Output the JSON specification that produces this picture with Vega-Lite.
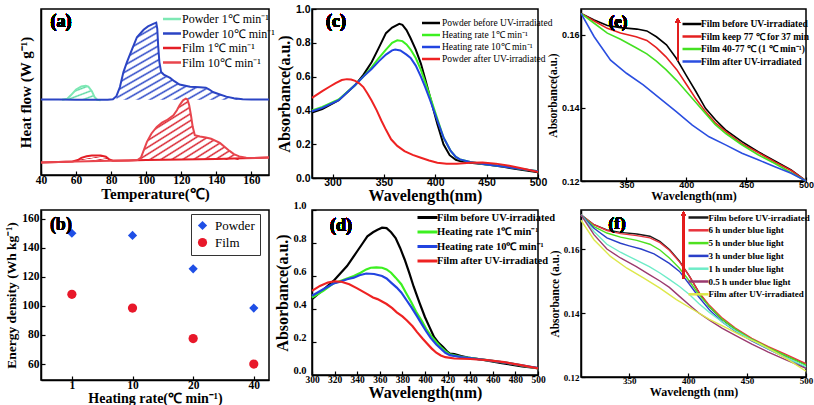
{
"$schema":"https://vega.github.io/schema/vega-lite/v6.json",
"background":"white",
"padding":{"left":4,"top":3,"right":5,"bottom":2},
"datasets":{
"dsc":[
{"series":"Powder 1℃ min⁻¹","T":52,"hf":45.3},{"series":"Powder 1℃ min⁻¹","T":55,"hf":46},{"series":"Powder 1℃ min⁻¹","T":57,"hf":48},{"series":"Powder 1℃ min⁻¹","T":60,"hf":51.5},{"series":"Powder 1℃ min⁻¹","T":63,"hf":53.4},{"series":"Powder 1℃ min⁻¹","T":65.5,"hf":53.8},{"series":"Powder 1℃ min⁻¹","T":67,"hf":53.2},{"series":"Powder 1℃ min⁻¹","T":69,"hf":50.5},{"series":"Powder 1℃ min⁻¹","T":70.5,"hf":47},{"series":"Powder 1℃ min⁻¹","T":72,"hf":45.3},{"series":"Powder 1℃ min⁻¹","T":74,"hf":45},
{"series":"Powder 10℃ min⁻¹","T":40,"hf":45.5},{"series":"Powder 10℃ min⁻¹","T":50,"hf":45.5},{"series":"Powder 10℃ min⁻¹","T":60,"hf":45.4},{"series":"Powder 10℃ min⁻¹","T":70,"hf":45.3},{"series":"Powder 10℃ min⁻¹","T":78,"hf":45.3},{"series":"Powder 10℃ min⁻¹","T":81,"hf":45.6},{"series":"Powder 10℃ min⁻¹","T":83,"hf":47.5},{"series":"Powder 10℃ min⁻¹","T":85,"hf":53},{"series":"Powder 10℃ min⁻¹","T":87,"hf":62},{"series":"Powder 10℃ min⁻¹","T":89,"hf":68},{"series":"Powder 10℃ min⁻¹","T":92,"hf":76},{"series":"Powder 10℃ min⁻¹","T":94.7,"hf":83},{"series":"Powder 10℃ min⁻¹","T":98.5,"hf":87.5},{"series":"Powder 10℃ min⁻¹","T":101,"hf":89.5},{"series":"Powder 10℃ min⁻¹","T":104,"hf":91},{"series":"Powder 10℃ min⁻¹","T":105.7,"hf":91.8},{"series":"Powder 10℃ min⁻¹","T":106.3,"hf":88},{"series":"Powder 10℃ min⁻¹","T":106.8,"hf":78},{"series":"Powder 10℃ min⁻¹","T":107.5,"hf":68},{"series":"Powder 10℃ min⁻¹","T":108.5,"hf":62},{"series":"Powder 10℃ min⁻¹","T":110,"hf":60.5},{"series":"Powder 10℃ min⁻¹","T":113.6,"hf":58.5},{"series":"Powder 10℃ min⁻¹","T":116,"hf":56.5},{"series":"Powder 10℃ min⁻¹","T":119,"hf":54.5},{"series":"Powder 10℃ min⁻¹","T":125,"hf":53.2},{"series":"Powder 10℃ min⁻¹","T":130.5,"hf":52.8},{"series":"Powder 10℃ min⁻¹","T":134,"hf":52.6},{"series":"Powder 10℃ min⁻¹","T":136,"hf":51.5},{"series":"Powder 10℃ min⁻¹","T":138,"hf":50},{"series":"Powder 10℃ min⁻¹","T":142,"hf":48.5},{"series":"Powder 10℃ min⁻¹","T":145.7,"hf":47.2},{"series":"Powder 10℃ min⁻¹","T":150,"hf":46.2},{"series":"Powder 10℃ min⁻¹","T":155,"hf":45.7},{"series":"Powder 10℃ min⁻¹","T":160,"hf":45.5},{"series":"Powder 10℃ min⁻¹","T":170,"hf":45.5},
{"series":"Film 1℃ min⁻¹","T":40,"hf":7.6},{"series":"Film 1℃ min⁻¹","T":50,"hf":7.9},{"series":"Film 1℃ min⁻¹","T":58,"hf":8.2},{"series":"Film 1℃ min⁻¹","T":61,"hf":9},{"series":"Film 1℃ min⁻¹","T":63,"hf":10.3},{"series":"Film 1℃ min⁻¹","T":66,"hf":11.3},{"series":"Film 1℃ min⁻¹","T":69,"hf":11.7},{"series":"Film 1℃ min⁻¹","T":74,"hf":11.7},{"series":"Film 1℃ min⁻¹","T":77,"hf":11},{"series":"Film 1℃ min⁻¹","T":79,"hf":9.3},{"series":"Film 1℃ min⁻¹","T":81,"hf":8.6},{"series":"Film 1℃ min⁻¹","T":90,"hf":8.8},{"series":"Film 1℃ min⁻¹","T":100,"hf":9},{"series":"Film 1℃ min⁻¹","T":120,"hf":9.3},{"series":"Film 1℃ min⁻¹","T":140,"hf":9.6},{"series":"Film 1℃ min⁻¹","T":155,"hf":10.1},{"series":"Film 1℃ min⁻¹","T":170,"hf":10.5},
{"series":"Film 10℃ min⁻¹","T":40,"hf":7.6},{"series":"Film 10℃ min⁻¹","T":60,"hf":8.2},{"series":"Film 10℃ min⁻¹","T":80,"hf":8.6},{"series":"Film 10℃ min⁻¹","T":90,"hf":8.8},{"series":"Film 10℃ min⁻¹","T":95,"hf":9},{"series":"Film 10℃ min⁻¹","T":97,"hf":10.5},{"series":"Film 10℃ min⁻¹","T":100.4,"hf":20},{"series":"Film 10℃ min⁻¹","T":103,"hf":25},{"series":"Film 10℃ min⁻¹","T":106,"hf":29},{"series":"Film 10℃ min⁻¹","T":109,"hf":31.5},{"series":"Film 10℃ min⁻¹","T":111.7,"hf":33},{"series":"Film 10℃ min⁻¹","T":115.5,"hf":36},{"series":"Film 10℃ min⁻¹","T":117.5,"hf":39},{"series":"Film 10℃ min⁻¹","T":119,"hf":42},{"series":"Film 10℃ min⁻¹","T":121,"hf":45},{"series":"Film 10℃ min⁻¹","T":122.6,"hf":46},{"series":"Film 10℃ min⁻¹","T":123.5,"hf":45.5},{"series":"Film 10℃ min⁻¹","T":124.5,"hf":42},{"series":"Film 10℃ min⁻¹","T":125.5,"hf":36},{"series":"Film 10℃ min⁻¹","T":126.5,"hf":29},{"series":"Film 10℃ min⁻¹","T":127.7,"hf":24},{"series":"Film 10℃ min⁻¹","T":130.6,"hf":23.2},{"series":"Film 10℃ min⁻¹","T":134,"hf":22.6},{"series":"Film 10℃ min⁻¹","T":137,"hf":21.8},{"series":"Film 10℃ min⁻¹","T":142,"hf":19.3},{"series":"Film 10℃ min⁻¹","T":147.5,"hf":14.5},{"series":"Film 10℃ min⁻¹","T":150,"hf":12.6},{"series":"Film 10℃ min⁻¹","T":153,"hf":11.2},{"series":"Film 10℃ min⁻¹","T":157,"hf":10.4},{"series":"Film 10℃ min⁻¹","T":161,"hf":10.2},{"series":"Film 10℃ min⁻¹","T":170,"hf":10.6}
],
"energy":[
{"sample":"Powder","rate":"1","e":150},{"sample":"Powder","rate":"10","e":148.5},{"sample":"Powder","rate":"20","e":125.5},{"sample":"Powder","rate":"40","e":98.5},
{"sample":"Film","rate":"1","e":108},{"sample":"Film","rate":"10","e":98.5},{"sample":"Film","rate":"20","e":77.5},{"sample":"Film","rate":"40","e":60}
],
"c":[
{"series":"Powder before UV-irradiated","nm":280,"A":0.388},{"series":"Powder before UV-irradiated","nm":290,"A":0.408},{"series":"Powder before UV-irradiated","nm":306,"A":0.46},{"series":"Powder before UV-irradiated","nm":322,"A":0.55},{"series":"Powder before UV-irradiated","nm":330,"A":0.61},{"series":"Powder before UV-irradiated","nm":338,"A":0.685},{"series":"Powder before UV-irradiated","nm":345,"A":0.77},{"series":"Powder before UV-irradiated","nm":352,"A":0.857},{"series":"Powder before UV-irradiated","nm":358,"A":0.89},{"series":"Powder before UV-irradiated","nm":365,"A":0.912},{"series":"Powder before UV-irradiated","nm":368,"A":0.906},{"series":"Powder before UV-irradiated","nm":372,"A":0.875},{"series":"Powder before UV-irradiated","nm":376,"A":0.827},{"series":"Powder before UV-irradiated","nm":381,"A":0.76},{"series":"Powder before UV-irradiated","nm":386,"A":0.677},{"series":"Powder before UV-irradiated","nm":390,"A":0.59},{"series":"Powder before UV-irradiated","nm":395,"A":0.478},{"series":"Powder before UV-irradiated","nm":402,"A":0.319},{"series":"Powder before UV-irradiated","nm":408,"A":0.199},{"series":"Powder before UV-irradiated","nm":414,"A":0.135},{"series":"Powder before UV-irradiated","nm":420,"A":0.108},{"series":"Powder before UV-irradiated","nm":424,"A":0.1},{"series":"Powder before UV-irradiated","nm":434,"A":0.09},{"series":"Powder before UV-irradiated","nm":450,"A":0.08},{"series":"Powder before UV-irradiated","nm":466,"A":0.066},{"series":"Powder before UV-irradiated","nm":482,"A":0.05},{"series":"Powder before UV-irradiated","nm":500,"A":0.034},
{"series":"Heating rate 1℃ min⁻¹","nm":280,"A":0.4},{"series":"Heating rate 1℃ min⁻¹","nm":290,"A":0.42},{"series":"Heating rate 1℃ min⁻¹","nm":306,"A":0.465},{"series":"Heating rate 1℃ min⁻¹","nm":322,"A":0.55},{"series":"Heating rate 1℃ min⁻¹","nm":330,"A":0.6},{"series":"Heating rate 1℃ min⁻¹","nm":338,"A":0.655},{"series":"Heating rate 1℃ min⁻¹","nm":345,"A":0.71},{"series":"Heating rate 1℃ min⁻¹","nm":352,"A":0.76},{"series":"Heating rate 1℃ min⁻¹","nm":358,"A":0.8},{"series":"Heating rate 1℃ min⁻¹","nm":363,"A":0.815},{"series":"Heating rate 1℃ min⁻¹","nm":368,"A":0.81},{"series":"Heating rate 1℃ min⁻¹","nm":372,"A":0.79},{"series":"Heating rate 1℃ min⁻¹","nm":376,"A":0.76},{"series":"Heating rate 1℃ min⁻¹","nm":381,"A":0.71},{"series":"Heating rate 1℃ min⁻¹","nm":386,"A":0.64},{"series":"Heating rate 1℃ min⁻¹","nm":390,"A":0.57},{"series":"Heating rate 1℃ min⁻¹","nm":395,"A":0.48},{"series":"Heating rate 1℃ min⁻¹","nm":402,"A":0.35},{"series":"Heating rate 1℃ min⁻¹","nm":408,"A":0.24},{"series":"Heating rate 1℃ min⁻¹","nm":415,"A":0.16},{"series":"Heating rate 1℃ min⁻¹","nm":420,"A":0.125},{"series":"Heating rate 1℃ min⁻¹","nm":424,"A":0.11},{"series":"Heating rate 1℃ min⁻¹","nm":434,"A":0.095},{"series":"Heating rate 1℃ min⁻¹","nm":450,"A":0.08},{"series":"Heating rate 1℃ min⁻¹","nm":466,"A":0.07},{"series":"Heating rate 1℃ min⁻¹","nm":482,"A":0.055},{"series":"Heating rate 1℃ min⁻¹","nm":500,"A":0.04},
{"series":"Heating rate 10℃ min⁻¹","nm":280,"A":0.395},{"series":"Heating rate 10℃ min⁻¹","nm":290,"A":0.415},{"series":"Heating rate 10℃ min⁻¹","nm":306,"A":0.46},{"series":"Heating rate 10℃ min⁻¹","nm":322,"A":0.55},{"series":"Heating rate 10℃ min⁻¹","nm":330,"A":0.6},{"series":"Heating rate 10℃ min⁻¹","nm":338,"A":0.645},{"series":"Heating rate 10℃ min⁻¹","nm":345,"A":0.69},{"series":"Heating rate 10℃ min⁻¹","nm":352,"A":0.73},{"series":"Heating rate 10℃ min⁻¹","nm":358,"A":0.755},{"series":"Heating rate 10℃ min⁻¹","nm":361,"A":0.76},{"series":"Heating rate 10℃ min⁻¹","nm":366,"A":0.755},{"series":"Heating rate 10℃ min⁻¹","nm":372,"A":0.73},{"series":"Heating rate 10℃ min⁻¹","nm":376,"A":0.71},{"series":"Heating rate 10℃ min⁻¹","nm":381,"A":0.665},{"series":"Heating rate 10℃ min⁻¹","nm":386,"A":0.6},{"series":"Heating rate 10℃ min⁻¹","nm":390,"A":0.54},{"series":"Heating rate 10℃ min⁻¹","nm":395,"A":0.46},{"series":"Heating rate 10℃ min⁻¹","nm":402,"A":0.34},{"series":"Heating rate 10℃ min⁻¹","nm":408,"A":0.24},{"series":"Heating rate 10℃ min⁻¹","nm":415,"A":0.16},{"series":"Heating rate 10℃ min⁻¹","nm":420,"A":0.125},{"series":"Heating rate 10℃ min⁻¹","nm":424,"A":0.11},{"series":"Heating rate 10℃ min⁻¹","nm":434,"A":0.095},{"series":"Heating rate 10℃ min⁻¹","nm":450,"A":0.08},{"series":"Heating rate 10℃ min⁻¹","nm":466,"A":0.068},{"series":"Heating rate 10℃ min⁻¹","nm":482,"A":0.055},{"series":"Heating rate 10℃ min⁻¹","nm":500,"A":0.04},
{"series":"Powder after UV-irradiated","nm":280,"A":0.474},{"series":"Powder after UV-irradiated","nm":290,"A":0.514},{"series":"Powder after UV-irradiated","nm":297,"A":0.54},{"series":"Powder after UV-irradiated","nm":303,"A":0.562},{"series":"Powder after UV-irradiated","nm":309,"A":0.58},{"series":"Powder after UV-irradiated","nm":314,"A":0.585},{"series":"Powder after UV-irradiated","nm":318,"A":0.583},{"series":"Powder after UV-irradiated","nm":322,"A":0.575},{"series":"Powder after UV-irradiated","nm":326,"A":0.56},{"series":"Powder after UV-irradiated","nm":330,"A":0.538},{"series":"Powder after UV-irradiated","nm":334,"A":0.5},{"series":"Powder after UV-irradiated","nm":338,"A":0.458},{"series":"Powder after UV-irradiated","nm":343,"A":0.4},{"series":"Powder after UV-irradiated","nm":347.6,"A":0.339},{"series":"Powder after UV-irradiated","nm":352,"A":0.285},{"series":"Powder after UV-irradiated","nm":357,"A":0.229},{"series":"Powder after UV-irradiated","nm":363,"A":0.19},{"series":"Powder after UV-irradiated","nm":370,"A":0.159},{"series":"Powder after UV-irradiated","nm":378,"A":0.137},{"series":"Powder after UV-irradiated","nm":386,"A":0.12},{"series":"Powder after UV-irradiated","nm":394,"A":0.104},{"series":"Powder after UV-irradiated","nm":402,"A":0.09},{"series":"Powder after UV-irradiated","nm":411,"A":0.084},{"series":"Powder after UV-irradiated","nm":421,"A":0.085},{"series":"Powder after UV-irradiated","nm":434,"A":0.09},{"series":"Powder after UV-irradiated","nm":446,"A":0.092},{"series":"Powder after UV-irradiated","nm":459,"A":0.085},{"series":"Powder after UV-irradiated","nm":472,"A":0.072},{"series":"Powder after UV-irradiated","nm":486,"A":0.055},{"series":"Powder after UV-irradiated","nm":500,"A":0.036}
],
"d":[
{"series":"Film before UV-irradiated","nm":300,"A":0.46},{"series":"Film before UV-irradiated","nm":307,"A":0.5},{"series":"Film before UV-irradiated","nm":313,"A":0.535},{"series":"Film before UV-irradiated","nm":319,"A":0.57},{"series":"Film before UV-irradiated","nm":325,"A":0.615},{"series":"Film before UV-irradiated","nm":331,"A":0.66},{"series":"Film before UV-irradiated","nm":336,"A":0.71},{"series":"Film before UV-irradiated","nm":340,"A":0.75},{"series":"Film before UV-irradiated","nm":345,"A":0.8},{"series":"Film before UV-irradiated","nm":349,"A":0.84},{"series":"Film before UV-irradiated","nm":354,"A":0.865},{"series":"Film before UV-irradiated","nm":358,"A":0.88},{"series":"Film before UV-irradiated","nm":362,"A":0.893},{"series":"Film before UV-irradiated","nm":366,"A":0.89},{"series":"Film before UV-irradiated","nm":370,"A":0.865},{"series":"Film before UV-irradiated","nm":374,"A":0.83},{"series":"Film before UV-irradiated","nm":378,"A":0.77},{"series":"Film before UV-irradiated","nm":382,"A":0.7},{"series":"Film before UV-irradiated","nm":386,"A":0.62},{"series":"Film before UV-irradiated","nm":390,"A":0.535},{"series":"Film before UV-irradiated","nm":395,"A":0.44},{"series":"Film before UV-irradiated","nm":400,"A":0.35},{"series":"Film before UV-irradiated","nm":404,"A":0.29},{"series":"Film before UV-irradiated","nm":408,"A":0.23},{"series":"Film before UV-irradiated","nm":412,"A":0.195},{"series":"Film before UV-irradiated","nm":416,"A":0.17},{"series":"Film before UV-irradiated","nm":420,"A":0.14},{"series":"Film before UV-irradiated","nm":422,"A":0.13},{"series":"Film before UV-irradiated","nm":426,"A":0.127},{"series":"Film before UV-irradiated","nm":432,"A":0.115},{"series":"Film before UV-irradiated","nm":438,"A":0.106},{"series":"Film before UV-irradiated","nm":453,"A":0.09},{"series":"Film before UV-irradiated","nm":468,"A":0.072},{"series":"Film before UV-irradiated","nm":486,"A":0.052},{"series":"Film before UV-irradiated","nm":500,"A":0.042},
{"series":"Heating rate 1℃ min⁻¹","nm":300,"A":0.47},{"series":"Heating rate 1℃ min⁻¹","nm":310,"A":0.51},{"series":"Heating rate 1℃ min⁻¹","nm":319,"A":0.555},{"series":"Heating rate 1℃ min⁻¹","nm":325,"A":0.57},{"series":"Heating rate 1℃ min⁻¹","nm":331,"A":0.585},{"series":"Heating rate 1℃ min⁻¹","nm":337,"A":0.6},{"series":"Heating rate 1℃ min⁻¹","nm":343,"A":0.62},{"series":"Heating rate 1℃ min⁻¹","nm":348,"A":0.64},{"series":"Heating rate 1℃ min⁻¹","nm":352,"A":0.65},{"series":"Heating rate 1℃ min⁻¹","nm":357,"A":0.652},{"series":"Heating rate 1℃ min⁻¹","nm":362,"A":0.65},{"series":"Heating rate 1℃ min⁻¹","nm":366,"A":0.64},{"series":"Heating rate 1℃ min⁻¹","nm":370,"A":0.62},{"series":"Heating rate 1℃ min⁻¹","nm":374,"A":0.59},{"series":"Heating rate 1℃ min⁻¹","nm":379,"A":0.55},{"series":"Heating rate 1℃ min⁻¹","nm":383,"A":0.5},{"series":"Heating rate 1℃ min⁻¹","nm":388,"A":0.44},{"series":"Heating rate 1℃ min⁻¹","nm":392,"A":0.385},{"series":"Heating rate 1℃ min⁻¹","nm":397,"A":0.33},{"series":"Heating rate 1℃ min⁻¹","nm":401,"A":0.28},{"series":"Heating rate 1℃ min⁻¹","nm":405,"A":0.24},{"series":"Heating rate 1℃ min⁻¹","nm":410,"A":0.2},{"series":"Heating rate 1℃ min⁻¹","nm":414,"A":0.17},{"series":"Heating rate 1℃ min⁻¹","nm":418,"A":0.145},{"series":"Heating rate 1℃ min⁻¹","nm":422,"A":0.125},{"series":"Heating rate 1℃ min⁻¹","nm":432,"A":0.11},{"series":"Heating rate 1℃ min⁻¹","nm":453,"A":0.092},{"series":"Heating rate 1℃ min⁻¹","nm":474,"A":0.072},{"series":"Heating rate 1℃ min⁻¹","nm":500,"A":0.04},
{"series":"Heating rate 10℃ min⁻¹","nm":300,"A":0.48},{"series":"Heating rate 10℃ min⁻¹","nm":310,"A":0.52},{"series":"Heating rate 10℃ min⁻¹","nm":319,"A":0.555},{"series":"Heating rate 10℃ min⁻¹","nm":325,"A":0.565},{"series":"Heating rate 10℃ min⁻¹","nm":331,"A":0.58},{"series":"Heating rate 10℃ min⁻¹","nm":337,"A":0.59},{"series":"Heating rate 10℃ min⁻¹","nm":342,"A":0.605},{"series":"Heating rate 10℃ min⁻¹","nm":348,"A":0.615},{"series":"Heating rate 10℃ min⁻¹","nm":355,"A":0.612},{"series":"Heating rate 10℃ min⁻¹","nm":362,"A":0.6},{"series":"Heating rate 10℃ min⁻¹","nm":366,"A":0.585},{"series":"Heating rate 10℃ min⁻¹","nm":370,"A":0.56},{"series":"Heating rate 10℃ min⁻¹","nm":375,"A":0.53},{"series":"Heating rate 10℃ min⁻¹","nm":379,"A":0.5},{"series":"Heating rate 10℃ min⁻¹","nm":384,"A":0.45},{"series":"Heating rate 10℃ min⁻¹","nm":388,"A":0.41},{"series":"Heating rate 10℃ min⁻¹","nm":393,"A":0.355},{"series":"Heating rate 10℃ min⁻¹","nm":397,"A":0.31},{"series":"Heating rate 10℃ min⁻¹","nm":401,"A":0.265},{"series":"Heating rate 10℃ min⁻¹","nm":405,"A":0.225},{"series":"Heating rate 10℃ min⁻¹","nm":410,"A":0.185},{"series":"Heating rate 10℃ min⁻¹","nm":414,"A":0.16},{"series":"Heating rate 10℃ min⁻¹","nm":418,"A":0.135},{"series":"Heating rate 10℃ min⁻¹","nm":422,"A":0.12},{"series":"Heating rate 10℃ min⁻¹","nm":432,"A":0.108},{"series":"Heating rate 10℃ min⁻¹","nm":453,"A":0.092},{"series":"Heating rate 10℃ min⁻¹","nm":474,"A":0.072},{"series":"Heating rate 10℃ min⁻¹","nm":500,"A":0.042},
{"series":"Film after UV-irradiated","nm":300,"A":0.51},{"series":"Film after UV-irradiated","nm":307,"A":0.54},{"series":"Film after UV-irradiated","nm":314,"A":0.56},{"series":"Film after UV-irradiated","nm":320,"A":0.568},{"series":"Film after UV-irradiated","nm":326,"A":0.565},{"series":"Film after UV-irradiated","nm":333,"A":0.55},{"series":"Film after UV-irradiated","nm":340,"A":0.525},{"series":"Film after UV-irradiated","nm":349,"A":0.49},{"series":"Film after UV-irradiated","nm":354,"A":0.47},{"series":"Film after UV-irradiated","nm":358,"A":0.46},{"series":"Film after UV-irradiated","nm":362,"A":0.445},{"series":"Film after UV-irradiated","nm":366,"A":0.43},{"series":"Film after UV-irradiated","nm":371,"A":0.405},{"series":"Film after UV-irradiated","nm":375,"A":0.38},{"series":"Film after UV-irradiated","nm":380,"A":0.355},{"series":"Film after UV-irradiated","nm":384,"A":0.33},{"series":"Film after UV-irradiated","nm":389,"A":0.295},{"series":"Film after UV-irradiated","nm":393,"A":0.26},{"series":"Film after UV-irradiated","nm":398,"A":0.22},{"series":"Film after UV-irradiated","nm":402,"A":0.19},{"series":"Film after UV-irradiated","nm":406,"A":0.16},{"series":"Film after UV-irradiated","nm":410,"A":0.135},{"series":"Film after UV-irradiated","nm":414,"A":0.118},{"series":"Film after UV-irradiated","nm":418,"A":0.108},{"series":"Film after UV-irradiated","nm":426,"A":0.1},{"series":"Film after UV-irradiated","nm":440,"A":0.097},{"series":"Film after UV-irradiated","nm":455,"A":0.09},{"series":"Film after UV-irradiated","nm":470,"A":0.078},{"series":"Film after UV-irradiated","nm":485,"A":0.06},{"series":"Film after UV-irradiated","nm":500,"A":0.04}
],
"e":[
{"series":"Film before UV-irradiated","nm":312,"A":0.1659},{"series":"Film before UV-irradiated","nm":323,"A":0.1641},{"series":"Film before UV-irradiated","nm":334,"A":0.1626},{"series":"Film before UV-irradiated","nm":345,"A":0.162},{"series":"Film before UV-irradiated","nm":358.7,"A":0.1616},{"series":"Film before UV-irradiated","nm":367,"A":0.1611},{"series":"Film before UV-irradiated","nm":375,"A":0.1595},{"series":"Film before UV-irradiated","nm":383.4,"A":0.1573},{"series":"Film before UV-irradiated","nm":391.6,"A":0.1536},{"series":"Film before UV-irradiated","nm":399.8,"A":0.149},{"series":"Film before UV-irradiated","nm":408,"A":0.1445},{"series":"Film before UV-irradiated","nm":416,"A":0.1399},{"series":"Film before UV-irradiated","nm":424.5,"A":0.1367},{"series":"Film before UV-irradiated","nm":432.8,"A":0.134},{"series":"Film before UV-irradiated","nm":446.5,"A":0.1308},{"series":"Film before UV-irradiated","nm":460,"A":0.128},{"series":"Film before UV-irradiated","nm":474,"A":0.1255},{"series":"Film before UV-irradiated","nm":487.6,"A":0.123},{"series":"Film before UV-irradiated","nm":500,"A":0.12},
{"series":"Film keep 77 ℃ for 37 min","nm":312,"A":0.1659},{"series":"Film keep 77 ℃ for 37 min","nm":323,"A":0.1638},{"series":"Film keep 77 ℃ for 37 min","nm":334,"A":0.1618},{"series":"Film keep 77 ℃ for 37 min","nm":345,"A":0.1605},{"series":"Film keep 77 ℃ for 37 min","nm":358,"A":0.1595},{"series":"Film keep 77 ℃ for 37 min","nm":367,"A":0.1585},{"series":"Film keep 77 ℃ for 37 min","nm":375,"A":0.1565},{"series":"Film keep 77 ℃ for 37 min","nm":383,"A":0.154},{"series":"Film keep 77 ℃ for 37 min","nm":392,"A":0.1505},{"series":"Film keep 77 ℃ for 37 min","nm":400,"A":0.1465},{"series":"Film keep 77 ℃ for 37 min","nm":408,"A":0.1425},{"series":"Film keep 77 ℃ for 37 min","nm":416,"A":0.139},{"series":"Film keep 77 ℃ for 37 min","nm":424,"A":0.136},{"series":"Film keep 77 ℃ for 37 min","nm":433,"A":0.1335},{"series":"Film keep 77 ℃ for 37 min","nm":446,"A":0.1303},{"series":"Film keep 77 ℃ for 37 min","nm":460,"A":0.1278},{"series":"Film keep 77 ℃ for 37 min","nm":474,"A":0.1252},{"series":"Film keep 77 ℃ for 37 min","nm":488,"A":0.1228},{"series":"Film keep 77 ℃ for 37 min","nm":500,"A":0.12},
{"series":"Film 40-77 ℃ (1 ℃ min⁻¹)","nm":312,"A":0.1659},{"series":"Film 40-77 ℃ (1 ℃ min⁻¹)","nm":323,"A":0.1632},{"series":"Film 40-77 ℃ (1 ℃ min⁻¹)","nm":334,"A":0.1605},{"series":"Film 40-77 ℃ (1 ℃ min⁻¹)","nm":345,"A":0.1588},{"series":"Film 40-77 ℃ (1 ℃ min⁻¹)","nm":358,"A":0.1565},{"series":"Film 40-77 ℃ (1 ℃ min⁻¹)","nm":367,"A":0.1548},{"series":"Film 40-77 ℃ (1 ℃ min⁻¹)","nm":375,"A":0.1528},{"series":"Film 40-77 ℃ (1 ℃ min⁻¹)","nm":383,"A":0.1505},{"series":"Film 40-77 ℃ (1 ℃ min⁻¹)","nm":392,"A":0.1475},{"series":"Film 40-77 ℃ (1 ℃ min⁻¹)","nm":400,"A":0.1445},{"series":"Film 40-77 ℃ (1 ℃ min⁻¹)","nm":408,"A":0.1415},{"series":"Film 40-77 ℃ (1 ℃ min⁻¹)","nm":416,"A":0.1385},{"series":"Film 40-77 ℃ (1 ℃ min⁻¹)","nm":424,"A":0.1355},{"series":"Film 40-77 ℃ (1 ℃ min⁻¹)","nm":433,"A":0.133},{"series":"Film 40-77 ℃ (1 ℃ min⁻¹)","nm":446,"A":0.13},{"series":"Film 40-77 ℃ (1 ℃ min⁻¹)","nm":460,"A":0.1272},{"series":"Film 40-77 ℃ (1 ℃ min⁻¹)","nm":474,"A":0.1248},{"series":"Film 40-77 ℃ (1 ℃ min⁻¹)","nm":488,"A":0.1222},{"series":"Film 40-77 ℃ (1 ℃ min⁻¹)","nm":500,"A":0.12},
{"series":"Film after UV-irradiated","nm":312,"A":0.1659},{"series":"Film after UV-irradiated","nm":323,"A":0.1595},{"series":"Film after UV-irradiated","nm":336.7,"A":0.1531},{"series":"Film after UV-irradiated","nm":350,"A":0.1495},{"series":"Film after UV-irradiated","nm":364,"A":0.1463},{"series":"Film after UV-irradiated","nm":377.9,"A":0.1426},{"series":"Film after UV-irradiated","nm":391.6,"A":0.139},{"series":"Film after UV-irradiated","nm":405,"A":0.1353},{"series":"Film after UV-irradiated","nm":419,"A":0.1321},{"series":"Film after UV-irradiated","nm":432.8,"A":0.1299},{"series":"Film after UV-irradiated","nm":446.5,"A":0.1276},{"series":"Film after UV-irradiated","nm":460,"A":0.1258},{"series":"Film after UV-irradiated","nm":474,"A":0.1239},{"series":"Film after UV-irradiated","nm":487.6,"A":0.1221},{"series":"Film after UV-irradiated","nm":500,"A":0.12}
],
"f":[
{"series":"Film before UV-irradiated","nm":309,"A":0.1707},{"series":"Film before UV-irradiated","nm":320,"A":0.1676},{"series":"Film before UV-irradiated","nm":331,"A":0.166},{"series":"Film before UV-irradiated","nm":342.5,"A":0.1652},{"series":"Film before UV-irradiated","nm":356.4,"A":0.1647},{"series":"Film before UV-irradiated","nm":367.5,"A":0.164},{"series":"Film before UV-irradiated","nm":375.9,"A":0.1624},{"series":"Film before UV-irradiated","nm":384.3,"A":0.1598},{"series":"Film before UV-irradiated","nm":392.6,"A":0.1562},{"series":"Film before UV-irradiated","nm":401,"A":0.1515},{"series":"Film before UV-irradiated","nm":409.4,"A":0.1463},{"series":"Film before UV-irradiated","nm":417.7,"A":0.1421},{"series":"Film before UV-irradiated","nm":428.9,"A":0.138},{"series":"Film before UV-irradiated","nm":440,"A":0.1349},{"series":"Film before UV-irradiated","nm":454,"A":0.1317},{"series":"Film before UV-irradiated","nm":468,"A":0.1291},{"series":"Film before UV-irradiated","nm":482,"A":0.1268},{"series":"Film before UV-irradiated","nm":500,"A":0.1239},
{"series":"6 h under blue light","nm":309,"A":0.1707},{"series":"6 h under blue light","nm":320,"A":0.1676},{"series":"6 h under blue light","nm":331,"A":0.1658},{"series":"6 h under blue light","nm":342.5,"A":0.1648},{"series":"6 h under blue light","nm":356.4,"A":0.1642},{"series":"6 h under blue light","nm":367.5,"A":0.1635},{"series":"6 h under blue light","nm":376,"A":0.162},{"series":"6 h under blue light","nm":384,"A":0.1596},{"series":"6 h under blue light","nm":392.6,"A":0.156},{"series":"6 h under blue light","nm":401,"A":0.1515},{"series":"6 h under blue light","nm":409,"A":0.1465},{"series":"6 h under blue light","nm":418,"A":0.1424},{"series":"6 h under blue light","nm":429,"A":0.1384},{"series":"6 h under blue light","nm":440,"A":0.1353},{"series":"6 h under blue light","nm":454,"A":0.1321},{"series":"6 h under blue light","nm":468,"A":0.1295},{"series":"6 h under blue light","nm":482,"A":0.1272},{"series":"6 h under blue light","nm":500,"A":0.1242},
{"series":"5 h under blue light","nm":309,"A":0.1707},{"series":"5 h under blue light","nm":320,"A":0.167},{"series":"5 h under blue light","nm":331,"A":0.165},{"series":"5 h under blue light","nm":342.5,"A":0.1637},{"series":"5 h under blue light","nm":356.4,"A":0.1627},{"series":"5 h under blue light","nm":367.5,"A":0.1615},{"series":"5 h under blue light","nm":376,"A":0.1597},{"series":"5 h under blue light","nm":384,"A":0.1572},{"series":"5 h under blue light","nm":392.6,"A":0.154},{"series":"5 h under blue light","nm":401,"A":0.15},{"series":"5 h under blue light","nm":409,"A":0.1458},{"series":"5 h under blue light","nm":418,"A":0.142},{"series":"5 h under blue light","nm":429,"A":0.138},{"series":"5 h under blue light","nm":440,"A":0.135},{"series":"5 h under blue light","nm":454,"A":0.1318},{"series":"5 h under blue light","nm":468,"A":0.1292},{"series":"5 h under blue light","nm":482,"A":0.1268},{"series":"5 h under blue light","nm":500,"A":0.1237},
{"series":"3 h under blue light","nm":309,"A":0.1707},{"series":"3 h under blue light","nm":320,"A":0.1665},{"series":"3 h under blue light","nm":331,"A":0.1635},{"series":"3 h under blue light","nm":342.5,"A":0.1618},{"series":"3 h under blue light","nm":350,"A":0.161},{"series":"3 h under blue light","nm":360,"A":0.16},{"series":"3 h under blue light","nm":371,"A":0.1585},{"series":"3 h under blue light","nm":384,"A":0.1555},{"series":"3 h under blue light","nm":392.6,"A":0.153},{"series":"3 h under blue light","nm":401,"A":0.149},{"series":"3 h under blue light","nm":409,"A":0.145},{"series":"3 h under blue light","nm":418,"A":0.141},{"series":"3 h under blue light","nm":429,"A":0.1372},{"series":"3 h under blue light","nm":440,"A":0.1343},{"series":"3 h under blue light","nm":454,"A":0.1313},{"series":"3 h under blue light","nm":468,"A":0.1287},{"series":"3 h under blue light","nm":482,"A":0.1262},{"series":"3 h under blue light","nm":500,"A":0.1229},
{"series":"1 h under blue light","nm":309,"A":0.1707},{"series":"1 h under blue light","nm":320,"A":0.1655},{"series":"1 h under blue light","nm":331,"A":0.1615},{"series":"1 h under blue light","nm":342.5,"A":0.159},{"series":"1 h under blue light","nm":356,"A":0.1565},{"series":"1 h under blue light","nm":367,"A":0.1545},{"series":"1 h under blue light","nm":376,"A":0.1525},{"series":"1 h under blue light","nm":384,"A":0.1505},{"series":"1 h under blue light","nm":392.6,"A":0.1483},{"series":"1 h under blue light","nm":401,"A":0.1458},{"series":"1 h under blue light","nm":409,"A":0.143},{"series":"1 h under blue light","nm":418,"A":0.1402},{"series":"1 h under blue light","nm":429,"A":0.1372},{"series":"1 h under blue light","nm":440,"A":0.1345},{"series":"1 h under blue light","nm":454,"A":0.1315},{"series":"1 h under blue light","nm":468,"A":0.1288},{"series":"1 h under blue light","nm":482,"A":0.1262},{"series":"1 h under blue light","nm":500,"A":0.1232},
{"series":"0.5 h under blue light","nm":309,"A":0.1707},{"series":"0.5 h under blue light","nm":320,"A":0.1645},{"series":"0.5 h under blue light","nm":331,"A":0.16},{"series":"0.5 h under blue light","nm":342.5,"A":0.1572},{"series":"0.5 h under blue light","nm":356,"A":0.1545},{"series":"0.5 h under blue light","nm":367,"A":0.152},{"series":"0.5 h under blue light","nm":376,"A":0.15},{"series":"0.5 h under blue light","nm":384,"A":0.148},{"series":"0.5 h under blue light","nm":392.6,"A":0.1452},{"series":"0.5 h under blue light","nm":401,"A":0.1425},{"series":"0.5 h under blue light","nm":409,"A":0.14},{"series":"0.5 h under blue light","nm":418,"A":0.1378},{"series":"0.5 h under blue light","nm":429,"A":0.1352},{"series":"0.5 h under blue light","nm":440,"A":0.133},{"series":"0.5 h under blue light","nm":454,"A":0.1303},{"series":"0.5 h under blue light","nm":468,"A":0.1278},{"series":"0.5 h under blue light","nm":482,"A":0.1255},{"series":"0.5 h under blue light","nm":500,"A":0.1227},
{"series":"Film after UV-irradiated","nm":309,"A":0.169},{"series":"Film after UV-irradiated","nm":320,"A":0.1629},{"series":"Film after UV-irradiated","nm":334,"A":0.1577},{"series":"Film after UV-irradiated","nm":348,"A":0.154},{"series":"Film after UV-irradiated","nm":362,"A":0.151},{"series":"Film after UV-irradiated","nm":376,"A":0.1478},{"series":"Film after UV-irradiated","nm":390,"A":0.1442},{"series":"Film after UV-irradiated","nm":404,"A":0.1411},{"series":"Film after UV-irradiated","nm":418,"A":0.138},{"series":"Film after UV-irradiated","nm":432,"A":0.1354},{"series":"Film after UV-irradiated","nm":446,"A":0.1328},{"series":"Film after UV-irradiated","nm":460,"A":0.1305},{"series":"Film after UV-irradiated","nm":474,"A":0.1278},{"series":"Film after UV-irradiated","nm":487.5,"A":0.1248},{"series":"Film after UV-irradiated","nm":500,"A":0.1218}
]
},
"columns":3,
"bounds":"flush",
"spacing":{"row":29,"column":43},
"resolve":{"scale":{"color":"independent","shape":"independent","x":"independent","y":"independent"},"legend":{"color":"independent","shape":"independent"}},
"concat":[
{
"width":228,"height":166,
"data":{"name":"dsc"},
"encoding":{
"x":{"field":"T","type":"quantitative","scale":{"domain":[40,170],"nice":false},"axis":{"values":[40,60,80,100,120,140,160],"title":"Temperature(℃)","labelFontSize":11.5,"titleFontSize":15,"labelPadding":3,"titlePadding":1,"labelOverlap":false}},
"y":{"field":"hf","type":"quantitative","scale":{"domain":[0,100],"nice":false},"axis":{"labels":false,"ticks":false,"title":"Heat flow (W g⁻¹)","titleFontSize":15,"titlePadding":8}}
},
"layer":[
{"transform":[{"filter":"datum.series==='Powder 10℃ min⁻¹' && datum.T>=82 && datum.T<=160"}],"mark":{"type":"area","fill":{"gradient":"linear","x1":0,"y1":0,"x2":1,"y2":1,"stops":[{"offset":0,"color":"#fff"},{"offset":0.0227,"color":"#fff"},{"offset":0.0341,"color":"#2e4ac8"},{"offset":0.0455,"color":"#fff"},{"offset":0.0682,"color":"#fff"},{"offset":0.0795,"color":"#2e4ac8"},{"offset":0.0909,"color":"#fff"},{"offset":0.1136,"color":"#fff"},{"offset":0.125,"color":"#2e4ac8"},{"offset":0.1364,"color":"#fff"},{"offset":0.1591,"color":"#fff"},{"offset":0.1705,"color":"#2e4ac8"},{"offset":0.1818,"color":"#fff"},{"offset":0.2045,"color":"#fff"},{"offset":0.2159,"color":"#2e4ac8"},{"offset":0.2273,"color":"#fff"},{"offset":0.25,"color":"#fff"},{"offset":0.2614,"color":"#2e4ac8"},{"offset":0.2727,"color":"#fff"},{"offset":0.2955,"color":"#fff"},{"offset":0.3068,"color":"#2e4ac8"},{"offset":0.3182,"color":"#fff"},{"offset":0.3409,"color":"#fff"},{"offset":0.3523,"color":"#2e4ac8"},{"offset":0.3636,"color":"#fff"},{"offset":0.3864,"color":"#fff"},{"offset":0.3977,"color":"#2e4ac8"},{"offset":0.4091,"color":"#fff"},{"offset":0.4318,"color":"#fff"},{"offset":0.4432,"color":"#2e4ac8"},{"offset":0.4545,"color":"#fff"},{"offset":0.4773,"color":"#fff"},{"offset":0.4886,"color":"#2e4ac8"},{"offset":0.5,"color":"#fff"},{"offset":0.5227,"color":"#fff"},{"offset":0.5341,"color":"#2e4ac8"},{"offset":0.5455,"color":"#fff"},{"offset":0.5682,"color":"#fff"},{"offset":0.5795,"color":"#2e4ac8"},{"offset":0.5909,"color":"#fff"},{"offset":0.6136,"color":"#fff"},{"offset":0.625,"color":"#2e4ac8"},{"offset":0.6364,"color":"#fff"},{"offset":0.6591,"color":"#fff"},{"offset":0.6705,"color":"#2e4ac8"},{"offset":0.6818,"color":"#fff"},{"offset":0.7045,"color":"#fff"},{"offset":0.7159,"color":"#2e4ac8"},{"offset":0.7273,"color":"#fff"},{"offset":0.75,"color":"#fff"},{"offset":0.7614,"color":"#2e4ac8"},{"offset":0.7727,"color":"#fff"},{"offset":0.7955,"color":"#fff"},{"offset":0.8068,"color":"#2e4ac8"},{"offset":0.8182,"color":"#fff"},{"offset":0.8409,"color":"#fff"},{"offset":0.8523,"color":"#2e4ac8"},{"offset":0.8636,"color":"#fff"},{"offset":0.8864,"color":"#fff"},{"offset":0.8977,"color":"#2e4ac8"},{"offset":0.9091,"color":"#fff"},{"offset":0.9318,"color":"#fff"},{"offset":0.9432,"color":"#2e4ac8"},{"offset":0.9545,"color":"#fff"},{"offset":0.9773,"color":"#fff"},{"offset":0.9886,"color":"#2e4ac8"},{"offset":1,"color":"#fff"}]}},"encoding":{"y2":{"datum":45.4}}},
{"transform":[{"filter":"datum.series==='Powder 1℃ min⁻¹'"}],"mark":{"type":"area","fill":{"gradient":"linear","x1":0,"y1":0,"x2":1,"y2":1,"stops":[{"offset":0,"color":"#fff"},{"offset":0.1,"color":"#fff"},{"offset":0.15,"color":"#58d8a0"},{"offset":0.2,"color":"#fff"},{"offset":0.3,"color":"#fff"},{"offset":0.35,"color":"#58d8a0"},{"offset":0.4,"color":"#fff"},{"offset":0.5,"color":"#fff"},{"offset":0.55,"color":"#58d8a0"},{"offset":0.6,"color":"#fff"},{"offset":0.7,"color":"#fff"},{"offset":0.75,"color":"#58d8a0"},{"offset":0.8,"color":"#fff"},{"offset":0.9,"color":"#fff"},{"offset":0.95,"color":"#58d8a0"},{"offset":1,"color":"#fff"}]}},"encoding":{"y2":{"datum":45.3}}},
{"transform":[{"filter":"datum.series==='Film 10℃ min⁻¹' && datum.T>=96 && datum.T<=155"}],"mark":{"type":"area","fill":{"gradient":"linear","x1":0,"y1":0,"x2":1,"y2":1,"stops":[{"offset":0,"color":"#fff"},{"offset":0.0278,"color":"#fff"},{"offset":0.0417,"color":"#d8202c"},{"offset":0.0556,"color":"#fff"},{"offset":0.0833,"color":"#fff"},{"offset":0.0972,"color":"#d8202c"},{"offset":0.1111,"color":"#fff"},{"offset":0.1389,"color":"#fff"},{"offset":0.1528,"color":"#d8202c"},{"offset":0.1667,"color":"#fff"},{"offset":0.1944,"color":"#fff"},{"offset":0.2083,"color":"#d8202c"},{"offset":0.2222,"color":"#fff"},{"offset":0.25,"color":"#fff"},{"offset":0.2639,"color":"#d8202c"},{"offset":0.2778,"color":"#fff"},{"offset":0.3056,"color":"#fff"},{"offset":0.3194,"color":"#d8202c"},{"offset":0.3333,"color":"#fff"},{"offset":0.3611,"color":"#fff"},{"offset":0.375,"color":"#d8202c"},{"offset":0.3889,"color":"#fff"},{"offset":0.4167,"color":"#fff"},{"offset":0.4306,"color":"#d8202c"},{"offset":0.4444,"color":"#fff"},{"offset":0.4722,"color":"#fff"},{"offset":0.4861,"color":"#d8202c"},{"offset":0.5,"color":"#fff"},{"offset":0.5278,"color":"#fff"},{"offset":0.5417,"color":"#d8202c"},{"offset":0.5556,"color":"#fff"},{"offset":0.5833,"color":"#fff"},{"offset":0.5972,"color":"#d8202c"},{"offset":0.6111,"color":"#fff"},{"offset":0.6389,"color":"#fff"},{"offset":0.6528,"color":"#d8202c"},{"offset":0.6667,"color":"#fff"},{"offset":0.6944,"color":"#fff"},{"offset":0.7083,"color":"#d8202c"},{"offset":0.7222,"color":"#fff"},{"offset":0.75,"color":"#fff"},{"offset":0.7639,"color":"#d8202c"},{"offset":0.7778,"color":"#fff"},{"offset":0.8056,"color":"#fff"},{"offset":0.8194,"color":"#d8202c"},{"offset":0.8333,"color":"#fff"},{"offset":0.8611,"color":"#fff"},{"offset":0.875,"color":"#d8202c"},{"offset":0.8889,"color":"#fff"},{"offset":0.9167,"color":"#fff"},{"offset":0.9306,"color":"#d8202c"},{"offset":0.9444,"color":"#fff"},{"offset":0.9722,"color":"#fff"},{"offset":0.9861,"color":"#d8202c"},{"offset":1,"color":"#fff"}]}},"encoding":{"y2":{"datum":9}}},
{"transform":[{"filter":"datum.series==='Film 1℃ min⁻¹' && datum.T>=60 && datum.T<=81"}],"mark":{"type":"area","fill":{"gradient":"linear","x1":0,"y1":0,"x2":1,"y2":1,"stops":[{"offset":0,"color":"#fff"},{"offset":0.125,"color":"#fff"},{"offset":0.1875,"color":"#d8202c"},{"offset":0.25,"color":"#fff"},{"offset":0.375,"color":"#fff"},{"offset":0.4375,"color":"#d8202c"},{"offset":0.5,"color":"#fff"},{"offset":0.625,"color":"#fff"},{"offset":0.6875,"color":"#d8202c"},{"offset":0.75,"color":"#fff"},{"offset":0.875,"color":"#fff"},{"offset":0.9375,"color":"#d8202c"},{"offset":1,"color":"#fff"}]}},"encoding":{"y2":{"datum":8.5}}},
{"mark":{"type":"line","strokeWidth":2},"encoding":{"color":{"field":"series","type":"nominal","scale":{"domain":["Powder 1℃ min⁻¹","Powder 10℃ min⁻¹","Film 1℃ min⁻¹","Film 10℃ min⁻¹"],"range":["#7de8b4","#2b44c4","#e41e26","#e8454d"]},"legend":{"title":null,"orient":"none","legendX":125,"legendY":4,"symbolType":"M-2,0H2","symbolSize":81,"symbolStrokeWidth":2.5,"labelFont":"Liberation Serif","labelFontSize":12,"labelFontWeight":"normal","rowPadding":2.5,"labelOffset":4}}}},
{"mark":{"type":"text","text":"(a)","font":"Liberation Serif","fontWeight":"bold","fontSize":18,"align":"center","baseline":"middle"},"encoding":{"x":{"datum":51.4},"y":{"datum":92}}}
]
},
{
"width":226,"height":169,
"data":{"name":"c"},
"encoding":{
"x":{"field":"nm","type":"quantitative","scale":{"domain":[280,500],"nice":false},"axis":{"values":[300,350,400,450,500],"title":"Wavelength(nm)","labelFont":"Liberation Sans","labelFontSize":10.5,"titleFontSize":16,"labelPadding":3,"titlePadding":0,"labelOverlap":false}},
"y":{"field":"A","type":"quantitative","scale":{"domain":[0,1],"nice":false},"axis":{"values":[0,0.2,0.4,0.6,0.8,1],"format":".1f","title":"Absorbance(a.u.)","labelFont":"Liberation Sans","labelFontSize":10.5,"titleFontSize":16,"labelPadding":6,"titlePadding":3,"labelOverlap":false}}
},
"layer":[
{"mark":{"type":"line","strokeWidth":2},"encoding":{"color":{"field":"series","type":"nominal","scale":{"domain":["Powder before UV-irradiated","Heating rate 1℃ min⁻¹","Heating rate 10℃ min⁻¹","Powder after UV-irradiated"],"range":["#000000","#3cf020","#2244e0","#ee2222"]},"legend":{"title":null,"orient":"none","legendX":113,"legendY":8,"symbolType":"M-2,0H2","symbolSize":81,"symbolStrokeWidth":2.5,"labelFont":"Liberation Serif","labelFontSize":9.5,"labelFontWeight":"normal","rowPadding":1,"labelOffset":5}}}},
{"mark":{"type":"text","text":"(c)","font":"Liberation Serif","fontWeight":"bold","fontSize":18,"align":"center","baseline":"middle"},"encoding":{"x":{"datum":303.4},"y":{"datum":0.923}}}
]
},
{
"width":225,"height":172,
"data":{"name":"e"},
"encoding":{
"x":{"field":"nm","type":"quantitative","scale":{"domain":[312,500],"nice":false},"axis":{"values":[350,400,450,500],"title":"Wavelength(nm)","labelFont":"Liberation Sans","labelFontSize":9,"titleFontSize":12,"labelPadding":3,"titlePadding":1,"labelOverlap":false}},
"y":{"field":"A","type":"quantitative","scale":{"domain":[0.12,0.1671],"nice":false,"zero":false},"axis":{"values":[0.12,0.14,0.16],"format":".2f","title":"Absorbance(a.u.)","labelFont":"Liberation Sans","labelFontSize":9,"titleFontSize":11.5,"labelPadding":6,"titlePadding":3,"labelOverlap":false}}
},
"layer":[
{"mark":{"type":"line","strokeWidth":1.6},"encoding":{"color":{"field":"series","type":"nominal","scale":{"domain":["Film before UV-irradiated","Film keep 77 ℃ for 37 min","Film 40-77 ℃ (1 ℃ min⁻¹)","Film after UV-irradiated"],"range":["#000000","#e42020","#44e022","#2a4ee0"]},"legend":{"title":null,"orient":"none","legendX":105,"legendY":9,"symbolType":"M-2,0H2","symbolSize":90,"symbolStrokeWidth":2.5,"labelFont":"Liberation Serif","labelFontSize":9.5,"labelFontWeight":"bold","rowPadding":1.5,"labelOffset":3}}}},
{"mark":{"type":"rule","color":"#e02020","strokeWidth":1.2},"encoding":{"x":{"datum":392.8},"y":{"datum":0.1531},"y2":{"datum":0.164}}},
{"mark":{"type":"point","shape":"triangle-up","filled":true,"color":"#e02020","size":25,"opacity":1},"encoding":{"x":{"datum":392.8},"y":{"datum":0.164}}},
{"mark":{"type":"text","text":"(e)","font":"Liberation Serif","fontWeight":"bold","fontSize":17,"align":"center","baseline":"middle"},"encoding":{"x":{"datum":343},"y":{"datum":0.1635}}}
]
},
{
"width":228,"height":170,
"data":{"name":"energy"},
"encoding":{
"x":{"field":"rate","type":"ordinal","sort":["1","10","20","40"],"scale":{"type":"point","padding":0.38,"align":0.67},"axis":{"title":"Heating rate(℃ min⁻¹)","labelAngle":0,"labelFontSize":11.5,"titleFontSize":14,"labelPadding":3,"titlePadding":1,"labelOverlap":false}},
"y":{"field":"e","type":"quantitative","scale":{"domain":[49,166],"nice":false,"zero":false},"axis":{"values":[60,80,100,120,140,160],"title":"Energy density (Wh kg⁻¹)","labelFontSize":11.5,"titleFontSize":13.5,"labelPadding":6,"titlePadding":3,"labelOverlap":false}}
},
"layer":[
{"mark":{"type":"point","filled":true,"opacity":1,"size":85},
"encoding":{
"color":{"field":"sample","type":"nominal","scale":{"domain":["Powder","Film"],"range":["#1f4fe6","#e8182a"]},"legend":{"title":null,"orient":"none","legendX":150,"legendY":4,"strokeColor":"#333","fillColor":"#fff","padding":5,"labelFont":"Liberation Serif","labelFontSize":13,"labelFontWeight":"normal","symbolSize":85,"rowPadding":3,"labelOffset":6}},
"shape":{"field":"sample","type":"nominal","scale":{"domain":["Powder","Film"],"range":["diamond","circle"]},"legend":{"title":null,"orient":"none","legendX":150,"legendY":4,"strokeColor":"#333","fillColor":"#fff","padding":5,"labelFont":"Liberation Serif","labelFontSize":13,"labelFontWeight":"normal","symbolSize":85,"rowPadding":3,"labelOffset":6}}
}},
{"mark":{"type":"text","text":"(b)","font":"Liberation Serif","fontWeight":"bold","fontSize":18,"align":"center","baseline":"middle","dx":-11},"encoding":{"x":{"datum":"1"},"y":{"datum":156}}}
]
},
{
"width":226,"height":165,
"data":{"name":"d"},
"encoding":{
"x":{"field":"nm","type":"quantitative","scale":{"domain":[300,500],"nice":false},"axis":{"values":[300,320,340,360,380,400,420,440,460,480,500],"title":"Wavelength(nm)","labelFontSize":9.5,"titleFontSize":16,"labelPadding":3,"titlePadding":1,"labelOverlap":false}},
"y":{"field":"A","type":"quantitative","scale":{"domain":[0,1],"nice":false},"axis":{"values":[0,0.2,0.4,0.6,0.8,1],"format":".1f","title":"Absorbance(a.u.)","labelFontSize":10.5,"titleFontSize":16,"labelPadding":10,"labelBaseline":"bottom","titlePadding":2,"labelOverlap":false}}
},
"layer":[
{"mark":{"type":"line","strokeWidth":2.2},"encoding":{"color":{"field":"series","type":"nominal","scale":{"domain":["Film before UV-irradiated","Heating rate 1℃ min⁻¹","Heating rate 10℃ min⁻¹","Film after UV-irradiated"],"range":["#000000","#3cf020","#2244e0","#ee2222"]},"legend":{"title":null,"orient":"none","legendX":109,"legendY":1,"symbolType":"M-2,0H2","symbolSize":100,"symbolStrokeWidth":3,"labelFont":"Liberation Serif","labelFontSize":10.5,"labelFontWeight":"bold","rowPadding":1.5,"labelOffset":3}}}},
{"mark":{"type":"text","text":"(d)","font":"Liberation Serif","fontWeight":"bold","fontSize":18,"align":"center","baseline":"middle"},"encoding":{"x":{"datum":325.7},"y":{"datum":0.903}}}
]
},
{
"width":225,"height":167,
"data":{"name":"f"},
"encoding":{
"x":{"field":"nm","type":"quantitative","scale":{"domain":[309,500],"nice":false},"axis":{"values":[350,400,450,500],"title":"Wavelength (nm)","labelFontSize":9,"titleFontSize":12,"labelPadding":3,"titlePadding":1,"labelOverlap":false}},
"y":{"field":"A","type":"quantitative","scale":{"domain":[0.12,0.1722],"nice":false,"zero":false},"axis":{"values":[0.12,0.14,0.16],"format":".2f","title":"Absorbance (a.u.)","labelFontSize":9,"titleFontSize":11.5,"labelPadding":6,"titlePadding":3,"labelOverlap":false}}
},
"layer":[
{"mark":{"type":"line","strokeWidth":1.4},"encoding":{"color":{"field":"series","type":"nominal","scale":{"domain":["Film before UV-irradiated","6 h under blue light","5 h under blue light","3 h under blue light","1 h under blue light","0.5 h under blue light","Film after UV-irradiated"],"range":["#1a1a1a","#e8333d","#4fe020","#2a3fc8","#6eecc8","#9b3a6e","#dde84a"]},"legend":{"title":null,"orient":"none","legendX":111,"legendY":1,"symbolType":"M-2,0H2","symbolSize":100,"symbolStrokeWidth":2.5,"labelFont":"Liberation Serif","labelFontSize":9,"labelFontWeight":"bold","rowPadding":0.8,"labelOffset":3.5}}}},
{"mark":{"type":"rule","color":"#e02020","strokeWidth":1.2},"encoding":{"x":{"datum":396},"y":{"datum":0.1508},"y2":{"datum":0.171}}},
{"mark":{"type":"point","shape":"triangle-up","filled":true,"color":"#e02020","size":25,"opacity":1},"encoding":{"x":{"datum":396},"y":{"datum":0.171}}},
{"mark":{"type":"text","text":"(f)","font":"Liberation Serif","fontWeight":"bold","fontSize":17,"align":"center","baseline":"middle"},"encoding":{"x":{"datum":339.6},"y":{"datum":0.1678}}}
]
}
],
"config":{
"view":{"stroke":"#000","strokeWidth":1.5},
"axis":{"grid":false,"domainColor":"#000","domainWidth":1.5,"tickColor":"#000","tickWidth":1.2,"tickSize":-4,"labelColor":"#000","titleColor":"#000","labelFont":"Liberation Serif","labelFontWeight":"bold","titleFont":"Liberation Serif","titleFontWeight":"bold","labelFlush":false,"labelOverlap":false},
"legend":{"labelColor":"#000","labelLimit":300}
}
}
